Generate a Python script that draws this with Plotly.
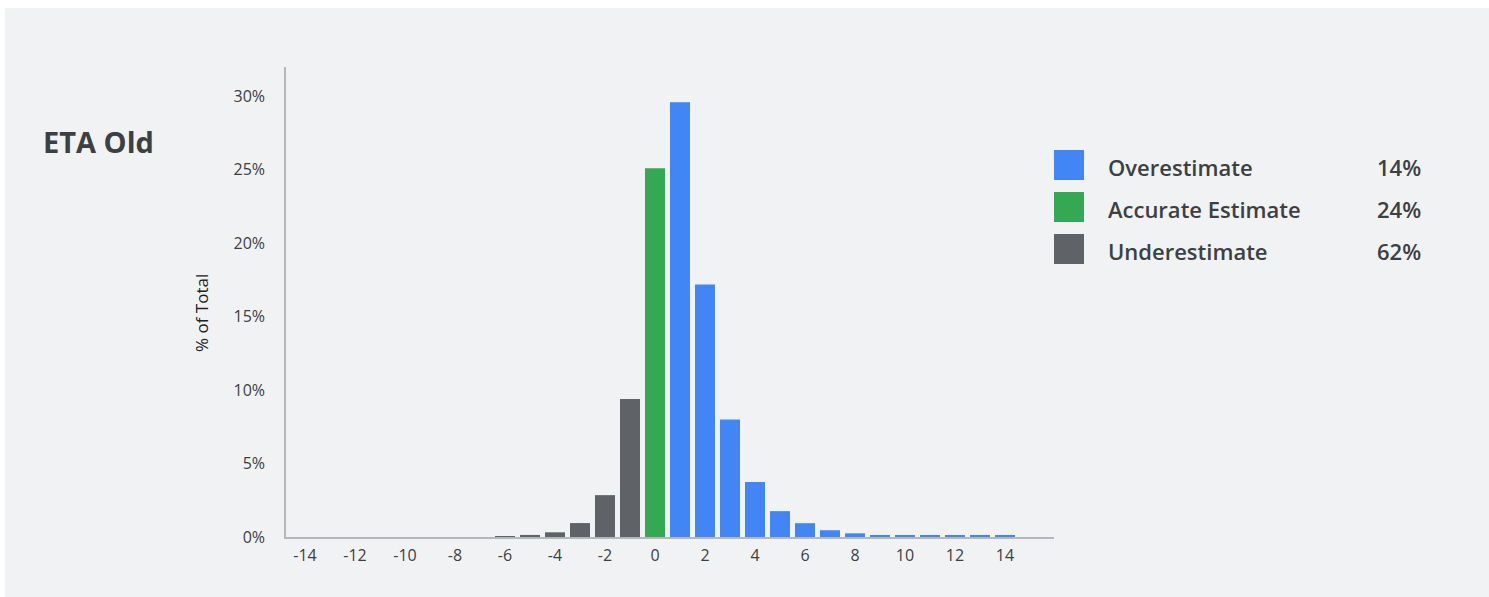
import plotly.graph_objects as go

# ---- data ----
x_values = list(range(-14, 16))
pct_values = [0, 0, 0, 0, 0, 0, 0, 0,            # -14 .. -7
              0.0005, 0.0014, 0.0032, 0.0095, 0.0285, 0.094,   # -6 .. -1
              0.251,                               # 0
              0.296, 0.172, 0.080, 0.0375, 0.0176, 0.0094, 0.0046, 0.0025,  # 1 .. 8
              0.0012, 0.0012, 0.0012, 0.0012, 0.0012, 0.0012,  # 9 .. 14
              0]                                   # 15

legend_labels = ["Overestimate", "Accurate Estimate", "Underestimate"]
legend_pcts = ["14%", "24%", "62%"]
legend_colors = ["#4285F4", "#34A853", "#5F6368"]

y_tick_vals = [0, 0.05, 0.10, 0.15, 0.20, 0.25, 0.30]
x_tick_vals = list(range(-14, 15, 2))
x_tick_text = ["-14", "-12", "-10", "-8", "-6", "-4", "-2", "0", "2", "4", "6", "8", "10", "12", "14"]

title_text = "ETA Old"
y_title = "% of Total"

BLUE, GREEN, GRAY = legend_colors
BG = "#F1F2F4"
TEXT = "#3C4043"
FONT = "Open Sans"

under_x = [x for x in x_values if x < 0]
under_y = [v for x, v in zip(x_values, pct_values) if x < 0]
acc_x = [x for x in x_values if x == 0]
acc_y = [v for x, v in zip(x_values, pct_values) if x == 0]
over_x = [x for x in x_values if x > 0]
over_y = [v for x, v in zip(x_values, pct_values) if x > 0]

fig = go.Figure()
fig.add_trace(go.Bar(x=under_x, y=under_y, marker=dict(color=GRAY, line=dict(width=0)),
                     width=0.8, name=legend_labels[2], showlegend=False))
fig.add_trace(go.Bar(x=acc_x, y=acc_y, marker=dict(color=GREEN, line=dict(width=0)),
                     width=0.8, name=legend_labels[1], showlegend=False))
fig.add_trace(go.Bar(x=over_x, y=over_y, marker=dict(color=BLUE, line=dict(width=0)),
                     width=0.8, name=legend_labels[0], showlegend=False))

W, H = 1489, 597
PL, PR, PT, PB = 286, 1054, 67, 537   # plot area in px
L, R, T, B = PL, W - PR, PT, H - PB
pw = PR - PL
ph = PB - PT

def px_x(px):
    return (px - PL) / pw

def px_y(py):
    return (PB - py) / ph

shapes = [
    dict(type="rect", xref="paper", yref="paper", x0=px_x(5), x1=px_x(W + 30),
         y0=px_y(H + 30), y1=px_y(8), fillcolor=BG, line=dict(width=0), layer="below"),
]
annotations = [
    dict(text=title_text, xref="paper", yref="paper", x=px_x(41), y=px_y(141),
         xanchor="left", yanchor="middle", showarrow=False,
         font=dict(family=FONT, size=29, color=TEXT, weight=700)),
    dict(text=y_title, xref="paper", yref="paper", x=px_x(201), y=px_y(313),
         xanchor="center", yanchor="middle", textangle=-90, showarrow=False,
         font=dict(family=FONT, size=17, color="#202124")),
]
for i, (lab, pct, col) in enumerate(zip(legend_labels, legend_pcts, legend_colors)):
    top = 150 + 42 * i
    shapes.append(dict(type="rect", xref="paper", yref="paper",
                       x0=px_x(1054), x1=px_x(1084), y0=px_y(top + 30), y1=px_y(top),
                       fillcolor=col, line=dict(width=0)))
    annotations.append(dict(text=lab, xref="paper", yref="paper", x=px_x(1106), y=px_y(top + 17),
                            xanchor="left", yanchor="middle", showarrow=False,
                            font=dict(family=FONT, size=22, color=TEXT, weight=600)))
    annotations.append(dict(text=pct, xref="paper", yref="paper", x=px_x(1423), y=px_y(top + 17),
                            xanchor="right", yanchor="middle", showarrow=False,
                            font=dict(family=FONT, size=22, color=TEXT, weight=600)))

fig.update_layout(
    width=W, height=H,
    margin=dict(l=L, r=R, t=T, b=B, autoexpand=False),
    paper_bgcolor="white",
    plot_bgcolor=BG,
    bargap=0.2,
    hovermode=False,
    font=dict(family=FONT, color=TEXT, size=16),
    shapes=shapes,
    annotations=annotations,
    xaxis=dict(range=[-14.76, 15.96], tickvals=x_tick_vals, ticktext=x_tick_text,
               showgrid=False, zeroline=False,
               showline=True, linecolor="#B4B8BD", linewidth=2, ticks="",
               ticklabelstandoff=3, tickfont=dict(size=16, color=TEXT), fixedrange=True),
    yaxis=dict(range=[0, 0.32], tickvals=y_tick_vals, tickformat=".0%", showgrid=False,
               zeroline=False, showline=True, linecolor="#B4B8BD", linewidth=1.5, ticks="",
               ticklabelstandoff=16, tickfont=dict(size=16, color=TEXT),
               fixedrange=True),
)

fig.write_html("out.html",
               config={"displayModeBar": False},
               post_script="document.body.style.margin='0';document.body.style.overflow='hidden';")
